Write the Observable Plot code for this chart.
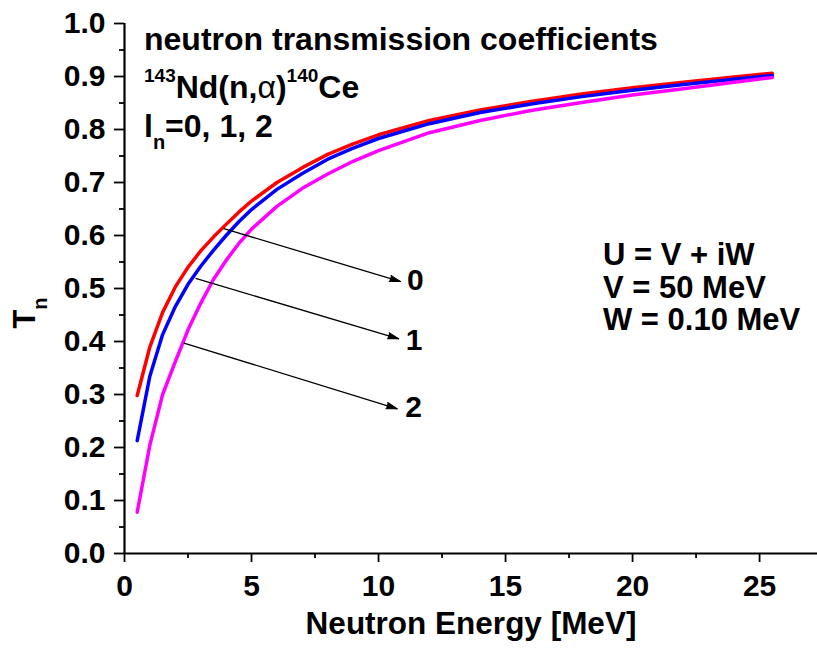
<!DOCTYPE html>
<html><head><meta charset="utf-8">
<script src="https://cdn.jsdelivr.net/npm/d3@7"></script>
<script src="https://cdn.jsdelivr.net/npm/@observablehq/plot@0.6"></script>
<style>html,body{margin:0;padding:0;background:#fff;overflow:hidden} svg{display:block}</style>
</head><body><div id="chart"></div>
<script>
// ---- data ----
const energy = [0.5, 1, 1.5, 2, 2.5, 3, 3.5, 4, 4.5, 5, 6, 7, 8, 9, 10, 12, 14, 16, 18, 20, 22, 24, 25.5];
const tL0 = [0.298, 0.390, 0.455, 0.503, 0.540, 0.571, 0.597, 0.621, 0.644, 0.665, 0.700, 0.728, 0.753, 0.773, 0.790, 0.817, 0.837, 0.853, 0.867, 0.879, 0.889, 0.899, 0.906];
const tL1 = [0.213, 0.335, 0.413, 0.466, 0.508, 0.542, 0.572, 0.600, 0.626, 0.649, 0.687, 0.717, 0.744, 0.765, 0.783, 0.811, 0.832, 0.848, 0.862, 0.874, 0.885, 0.895, 0.902];
const tL2 = [0.078, 0.205, 0.300, 0.362, 0.422, 0.472, 0.517, 0.553, 0.585, 0.612, 0.655, 0.689, 0.716, 0.740, 0.760, 0.794, 0.817, 0.836, 0.851, 0.865, 0.877, 0.889, 0.898];
const seriesNames = ["0", "1", "2"];
const seriesColors = ["#ff0000", "#0000ff", "#ff00ff"];
const seriesValues = [tL0, tL1, tL2];

const xTicks = [0, 5, 10, 15, 20, 25];
const xMinorTicks = [2.5, 7.5, 12.5, 17.5, 22.5];
const yTicks = [0, 0.1, 0.2, 0.3, 0.4, 0.5, 0.6, 0.7, 0.8, 0.9, 1.0];
const yMinorTicks = [0.05, 0.15, 0.25, 0.35, 0.45, 0.55, 0.65, 0.75, 0.85, 0.95];

// arrow annotations (data coordinates)
const arrowX1 = [3.91, 2.80, 2.34];
const arrowY1 = [0.613, 0.519, 0.397];
const arrowX2 = [10.87, 10.80, 10.74];
const arrowY2 = [0.513, 0.405, 0.273];
const labelX = [11.45, 11.40, 11.38];
const labelY = [0.515, 0.402, 0.276];

const xTitle = "Neutron Energy [MeV]";
const titleLine1 = "neutron transmission coefficients";
const potentialLines = ["U = V + iW", "V = 50 MeV", "W = 0.10 MeV"];

// ---- layout ----
const W = 817, H = 655, mL = 124, mR = 0, mT = 23, mB = 102;
const xDomain = [0, 27.28];
const FONT = "'Liberation Sans', Arial, Helvetica, sans-serif";

const rows = seriesNames.flatMap((n, s) => energy.map((e, i) => ({e, t: seriesValues[s][i], l: n})));
const idx = d3.range(arrowX1.length);
const sx = (W - mL - mR) / (xDomain[1] - xDomain[0]);
const sy = (H - mT - mB) / 1;
const headRot = idx.map(i => 90 + Math.atan2((arrowY1[i] - arrowY2[i]) * sy, (arrowX2[i] - arrowX1[i]) * sx) * 180 / Math.PI);

const plot = Plot.plot({
  width: W, height: H,
  marginLeft: mL, marginRight: mR, marginTop: mT, marginBottom: mB,
  style: {fontFamily: FONT, fontWeight: "bold", background: "white", color: "black", overflow: "visible"},
  x: {domain: xDomain},
  y: {domain: [0, 1]},
  marks: [
    ...seriesNames.map((n, s) => Plot.line(rows.filter(d => d.l === n), {x: "e", y: "t", stroke: seriesColors[s], strokeWidth: 3.5})),
    Plot.link(idx, {x1: i => arrowX1[i], y1: i => arrowY1[i], x2: i => arrowX2[i], y2: i => arrowY2[i], stroke: "black", strokeWidth: 1.3}),
    Plot.vector(idx, {x: i => arrowX2[i], y: i => arrowY2[i], rotate: i => headRot[i], length: 11, anchor: "end", shape: "spike", r: 3.2, fill: "black", stroke: "black", strokeWidth: 1}),
    Plot.text(idx, {x: i => labelX[i], y: i => labelY[i], text: i => seriesNames[i], fontSize: 30, textAnchor: "middle"}),
    Plot.axisX({ticks: xTicks, tickSize: 9, tickPadding: 12, fontSize: 30, tickFormat: d => String(d), label: null, strokeWidth: 1.8}),
    Plot.axisX({ticks: xMinorTicks, tickSize: 5, tickFormat: () => "", label: null, strokeWidth: 1.8}),
    Plot.axisY({ticks: yTicks, tickSize: 10, tickPadding: 9, fontSize: 30, tickFormat: d3.format(".1f"), label: null, strokeWidth: 1.8}),
    Plot.axisY({ticks: yMinorTicks, tickSize: 5, tickFormat: () => "", label: null, strokeWidth: 1.8}),
    Plot.ruleX([0], {strokeWidth: 2.2}),
    Plot.ruleY([0], {strokeWidth: 2.2}),
    Plot.text([xTitle], {text: d => d, frameAnchor: "bottom", dy: 80, fontSize: 31.5})
  ]
});
document.getElementById("chart").appendChild(plot);

// ---- rich-text annotations (super/subscripts) ----
const svg = d3.select(plot);
const g = svg.append("g").attr("font-family", FONT).attr("font-weight", "bold").attr("fill", "black").attr("text-anchor", "start");

// y-axis title T_n
const yt = g.append("text").attr("transform", "translate(35,313) rotate(-90)").attr("text-anchor", "middle").attr("font-size", 31);
yt.append("tspan").text("T");
yt.append("tspan").attr("dy", 12).attr("font-size", 20).text("n");

// top-left block
g.append("text").attr("x", 144).attr("y", 50).attr("font-size", 32).text(titleLine1);
const l2 = g.append("text").attr("x", 144).attr("y", 98).attr("font-size", 32);
l2.append("tspan").attr("font-size", 19).attr("dy", -16).text("143");
l2.append("tspan").attr("dy", 16).text("Nd(n,");
l2.append("tspan").attr("font-weight", "normal").text("α");
l2.append("tspan").text(")");
l2.append("tspan").attr("font-size", 19).attr("dy", -16).text("140");
l2.append("tspan").attr("dy", 16).text("Ce");
const l3 = g.append("text").attr("x", 144).attr("y", 137).attr("font-size", 32);
l3.append("tspan").text("l");
l3.append("tspan").attr("font-size", 20).attr("dy", 12).text("n");
l3.append("tspan").attr("dy", -12).text("=0, 1, 2");

// right block
[265, 298, 330].forEach((yy, i) => {
  g.append("text").attr("x", 603).attr("y", yy).attr("font-size", 31).text(potentialLines[i]);
});
</script>
</body></html>
